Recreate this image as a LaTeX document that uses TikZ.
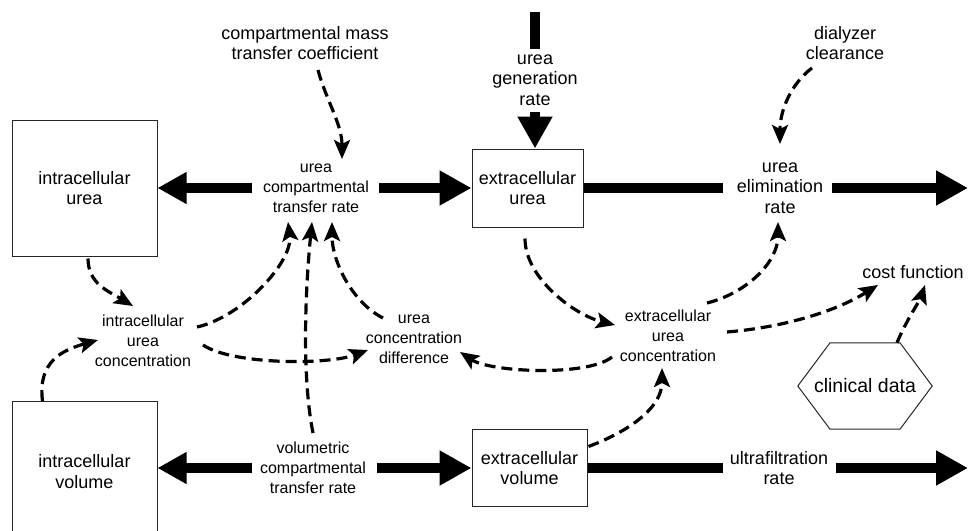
\documentclass[tikz,border=0pt]{standalone}
\usepackage{fontspec}
\setmainfont{Liberation Sans}
\usetikzlibrary{arrows.meta}
\begin{document}
\begin{tikzpicture}[x=1pt,y=-1pt,
  big/.style={font=\fontsize{18}{20.5}\selectfont, align=center, inner sep=0pt},
  small/.style={font=\fontsize{16}{20}\selectfont, align=center, inner sep=0pt},
  stock/.style={draw=black!85, line width=1pt, big},
  flow/.style={line width=9.5pt},
  flowtip/.style={flow, -{Triangle[length=32pt,width=33pt]}},
  infl/.style={line width=3.2pt, dash pattern=on 11pt off 6pt, -{Stealth[length=19pt,width=16pt,inset=4pt]}},
]
\useasboundingbox (0,0) rectangle (968,530);
\clip (0,0) rectangle (968,530);

% stocks
\node[stock, minimum width=145pt, minimum height=136pt] (icu) at (84.5,188) {intracellular\\urea};
\node[stock, minimum width=145pt, minimum height=140pt, anchor=north] (icv) at (84.5,401) {intracellular\\volume};
\node[stock, minimum width=111pt, minimum height=78pt] (ecu) at (527.5,188) {extracellular\\urea};
\node[stock, minimum width=115pt, minimum height=77pt] (ecv) at (529.5,468) {extracellular\\volume};
\node[big, font=\fontsize{19.5}{22}\selectfont, minimum width=134pt, minimum height=86pt] (cd) at (865,386) {clinical data};
\draw[black!85, line width=1pt] (cd.west) -- ([shift={(-35,0)}]cd.north) -- ([shift={(35,0)}]cd.north) -- (cd.east) -- ([shift={(35,0)}]cd.south) -- ([shift={(-35,0)}]cd.south) -- cycle;

% labels
\node[big] (cmtc) at (305,43) {compartmental mass\\transfer coefficient};
\node[small] (uctr) at (316,188) {urea\\compartmental\\transfer rate};
\node[big] (ugr) at (535,80) {urea\\generation\\rate};
\node[big] (dc) at (845,43) {dialyzer\\clearance};
\node[big] (uer) at (780,188) {urea\\elimination\\rate};
\node[big] (cf) at (913,272) {cost function};
\node[small] (icuc) at (143,341) {intracellular\\urea\\concentration};
\node[small] (ucd) at (414,339) {urea\\concentration\\difference};
\node[small] (ecuc) at (668,336) {extracellular\\urea\\concentration};
\node[small] (vctr) at (313,468) {volumetric\\compartmental\\transfer rate};
\node[big] (uf) at (779,468) {ultrafiltration\\rate};

\coordinate (src) at (535,12);
\coordinate (sinkA) at (968,188);
\coordinate (sinkB) at (968,468);

% flows
\draw[flowtip, -{Triangle[length=29pt,width=30pt]}] ([shift={(-64,0)}]uctr.center) -- (icu.east);
\draw[flowtip] ([shift={(63,0)}]uctr.center) -- (ecu.west);
\draw[flow] (ecu.east) -- ([shift={(-57,0)}]uer.center);
\draw[flowtip] ([shift={(52,0)}]uer.center) -- (sinkA);
\draw[flow] (src) -- ([shift={(0,-31)}]ugr.center);
\draw[flowtip] ([shift={(0,32)}]ugr.center) -- (ugr.center |- ecu.north);
\draw[flowtip, -{Triangle[length=29pt,width=30pt]}] ([shift={(-61,0)}]vctr.center) -- (icv.east |- vctr.center);
\draw[flowtip] ([shift={(64,0)}]vctr.center) -- (ecv.west);
\draw[flow] (ecv.east) -- ([shift={(-56,0)}]uf.center);
\draw[flowtip] ([shift={(57,0)}]uf.center) -- (sinkB);

% information links
\draw[infl] ([shift={(13,27)}]cmtc.center) .. controls +(8,30) and +(0,-35) .. ([shift={(26,-29)}]uctr.center);
\draw[infl] ([shift={(-33,25)}]dc.center) .. controls +(-20,15) and +(0,-35) .. ([shift={(0,-44)}]uer.center);
\draw[infl] ([shift={(3.5,2)}]icu.south) .. controls +(0,25) and +(-25,-15) .. ([shift={(-10,-35)}]icuc.center);
\draw[infl] ([shift={(-42,0)}]icv.north) .. controls +(-5,-40) and +(-35,10) .. ([shift={(-45,-1)}]icuc.center);
\draw[infl] ([shift={(54,-14)}]icuc.center) .. controls +(45,-10) and +(5,40) .. ([shift={(-28,34)}]uctr.center);
\draw[infl] ([shift={(60,4)}]icuc.center) .. controls +(30,20) and +(-40,15) .. ([shift={(-46,11)}]ucd.center);
\draw[infl] ([shift={(0,-35)}]vctr.center) .. controls +(-12,-60) and +(-6,60) .. ([shift={(-4,34)}]uctr.center);
\draw[infl] ([shift={(-31,-21)}]ucd.center) .. controls +(-30,-15) and +(0,40) .. ([shift={(16,34)}]uctr.center);
\draw[infl] ([shift={(-2.5,11)}]ecu.south) .. controls +(0,40) and +(-40,-10) .. ([shift={(-53,-11)}]ecuc.center);
\draw[infl] ([shift={(39,-33)}]ecuc.center) .. controls +(40,-10) and +(0,40) .. ([shift={(-2,34)}]uer.center);
\draw[infl] ([shift={(-56,21)}]ecuc.center) .. controls +(-25,20) and +(30,20) .. ([shift={(46,13)}]ucd.center);
\draw[infl] ([shift={(1,-21.5)}]ecv.east) .. controls +(40,-15) and +(0,40) .. ([shift={(-6,32)}]ecuc.center);
\draw[infl] ([shift={(59,-4)}]ecuc.center) .. controls +(60,-5) and +(-40,25) .. ([shift={(-35,13)}]cf.center);
\draw[infl] ([shift={(32,0)}]cd.north) .. controls +(8,-20) and +(-5,15) .. ([shift={(12,13)}]cf.center);
\end{tikzpicture}
\end{document}
